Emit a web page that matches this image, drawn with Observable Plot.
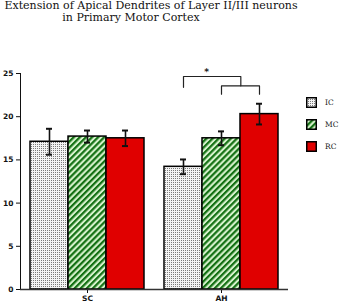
<!DOCTYPE html>
<html><head><meta charset="utf-8">
<script src="https://cdn.jsdelivr.net/npm/d3@7"></script>
<script src="https://cdn.jsdelivr.net/npm/@observablehq/plot@0.6"></script>
<style>
body{margin:0;background:#fff;}
#wrap{position:relative;width:340px;height:304px;overflow:hidden;background:#fff;}
#title{height:26px;font-family:"DejaVu Serif",serif;font-size:11px;line-height:11.5px;color:#111;}
#title div{text-align:center;white-space:nowrap;}
#legend{position:absolute;left:306px;top:91px;font-family:"DejaVu Serif",serif;font-size:7.5px;color:#222;}
.item{display:flex;align-items:center;height:22px;}
.item svg{display:block;margin-right:8px;}
</style></head><body>
<svg width="0" height="0" style="position:absolute">
<defs>
<pattern id="dots" width="2" height="2" patternUnits="userSpaceOnUse">
<rect width="2" height="2" fill="#f4f4f4"/>
<rect width="1" height="1" fill="#7a7a7a"/>
</pattern>
<pattern id="stripes" width="4.3" height="4.3" patternUnits="userSpaceOnUse" patternTransform="rotate(45)">
<rect width="4.3" height="4.3" fill="#d6f2cc"/>
<rect width="2.2" height="4.3" fill="#137013"/>
</pattern>
</defs></svg>
<div id="wrap">
<div id="title"><div id="t1" style="width:302px"></div><div id="t2" style="width:262px"></div></div>
<div id="chart"></div>
<div id="legend"></div>
</div>
<script>
const titleLines = ["Extension of Apical Dendrites of Layer II/III neurons", "in Primary Motor Cortex"];
const groups = ["SC", "AH"];
const conditions = ["IC", "MC", "RC"];
const barGroup = ["SC", "SC", "SC", "AH", "AH", "AH"];
const barCondition = ["IC", "MC", "RC", "IC", "MC", "RC"];
const meanValues = [17.1, 17.7, 17.5, 14.2, 17.5, 20.3];
const errorValues = [1.5, 0.7, 0.9, 0.85, 0.8, 1.2];
const yTicks = [0, 5, 10, 15, 20, 25];
// significance annotation (AH group)
const upperX = ["IC", "IC", "MC"];
const upperY = [23.4, 24.65, 24.65];
const upperTailX = ["IC", "MC", "MC"];
const upperTailY = [24.65, 24.65, 23.57];
const lowerX = ["MC", "MC", "RC", "RC"];
const lowerY = [22.6, 23.57, 23.57, 22.6];
const starText = ["*"];
const starY = [25.2];

const fills = {IC: "url(#dots)", MC: "url(#stripes)", RC: "#e00000"};

document.getElementById("t1").textContent = titleLines[0];
document.getElementById("t2").textContent = titleLines[1];

const rows = meanValues.map((m, i) => ({group: barGroup[i], condition: barCondition[i], mean: m, err: errorValues[i]}));
const upper = upperX.map((x, i) => ({group: "AH", x, y: upperY[i]}));
const upperTail = upperTailX.map((x, i) => ({group: "AH", x, y: upperTailY[i]}));
const lower = lowerX.map((x, i) => ({group: "AH", x, y: lowerY[i]}));
const star = starText.map((t, i) => ({group: "AH", x: "MC", y: starY[i], t}));

const W = 340, H = 278, mL = 19, mR = 52;
const half = ((W - mL - mR) / 2) / (3 + 2 * 0.24) / 2;

const plot = Plot.plot({
  width: W, height: H,
  marginLeft: mL, marginRight: mR, marginTop: 47, marginBottom: 15,
  style: {fontFamily: "DejaVu Sans, sans-serif", fontSize: "7.5px", fontWeight: "bold", color: "#111", background: "#fff"},
  fx: {domain: groups, padding: 0, axis: "bottom", label: null, tickSize: 4, tickPadding: 2.5},
  x: {domain: conditions, paddingInner: 0, paddingOuter: 0.24, axis: null},
  y: {domain: [0, 25], ticks: yTicks, tickSize: 4, tickPadding: 3, label: null, line: true, grid: false},
  marks: [
    ...conditions.map(c => Plot.barY(rows.filter(d => d.condition === c), {fx: "group", x: "condition", y: "mean", fill: fills[c], stroke: "#000", strokeWidth: 1.5})),
    Plot.ruleX(rows, {fx: "group", x: "condition", y1: d => d.mean - d.err, y2: d => d.mean + d.err, stroke: "#111", strokeWidth: 1.6}),
    Plot.tickY(rows, {fx: "group", x: "condition", y: d => d.mean + d.err, insetLeft: 16, insetRight: 16, stroke: "#111", strokeWidth: 2}),
    Plot.tickY(rows, {fx: "group", x: "condition", y: d => d.mean - d.err, insetLeft: 16, insetRight: 16, stroke: "#111", strokeWidth: 2}),
    Plot.ruleY([0], {stroke: "#333", strokeWidth: 1.5}),
    Plot.line(upper, {fx: "group", x: "x", y: "y", stroke: "#222", strokeWidth: 1.2}),
    Plot.line(upperTail, {fx: "group", x: "x", y: "y", dx: half, stroke: "#222", strokeWidth: 1.2}),
    Plot.line(lower, {fx: "group", x: "x", y: "y", stroke: "#222", strokeWidth: 1.2}),
    Plot.text(star, {fx: "group", x: "x", y: "y", text: "t", dx: -15, fontSize: 9, fill: "#222"})
  ]
});
document.getElementById("chart").appendChild(plot);

const legend = document.getElementById("legend");
conditions.forEach(c => {
  const item = document.createElement("div");
  item.className = "item";
  item.innerHTML = `<svg width="11" height="11"><rect x="0.75" y="0.75" width="9.5" height="9.5" fill="${fills[c]}" stroke="#000" stroke-width="1.5"/></svg><span>${c}</span>`;
  legend.appendChild(item);
});
</script>
</body></html>
